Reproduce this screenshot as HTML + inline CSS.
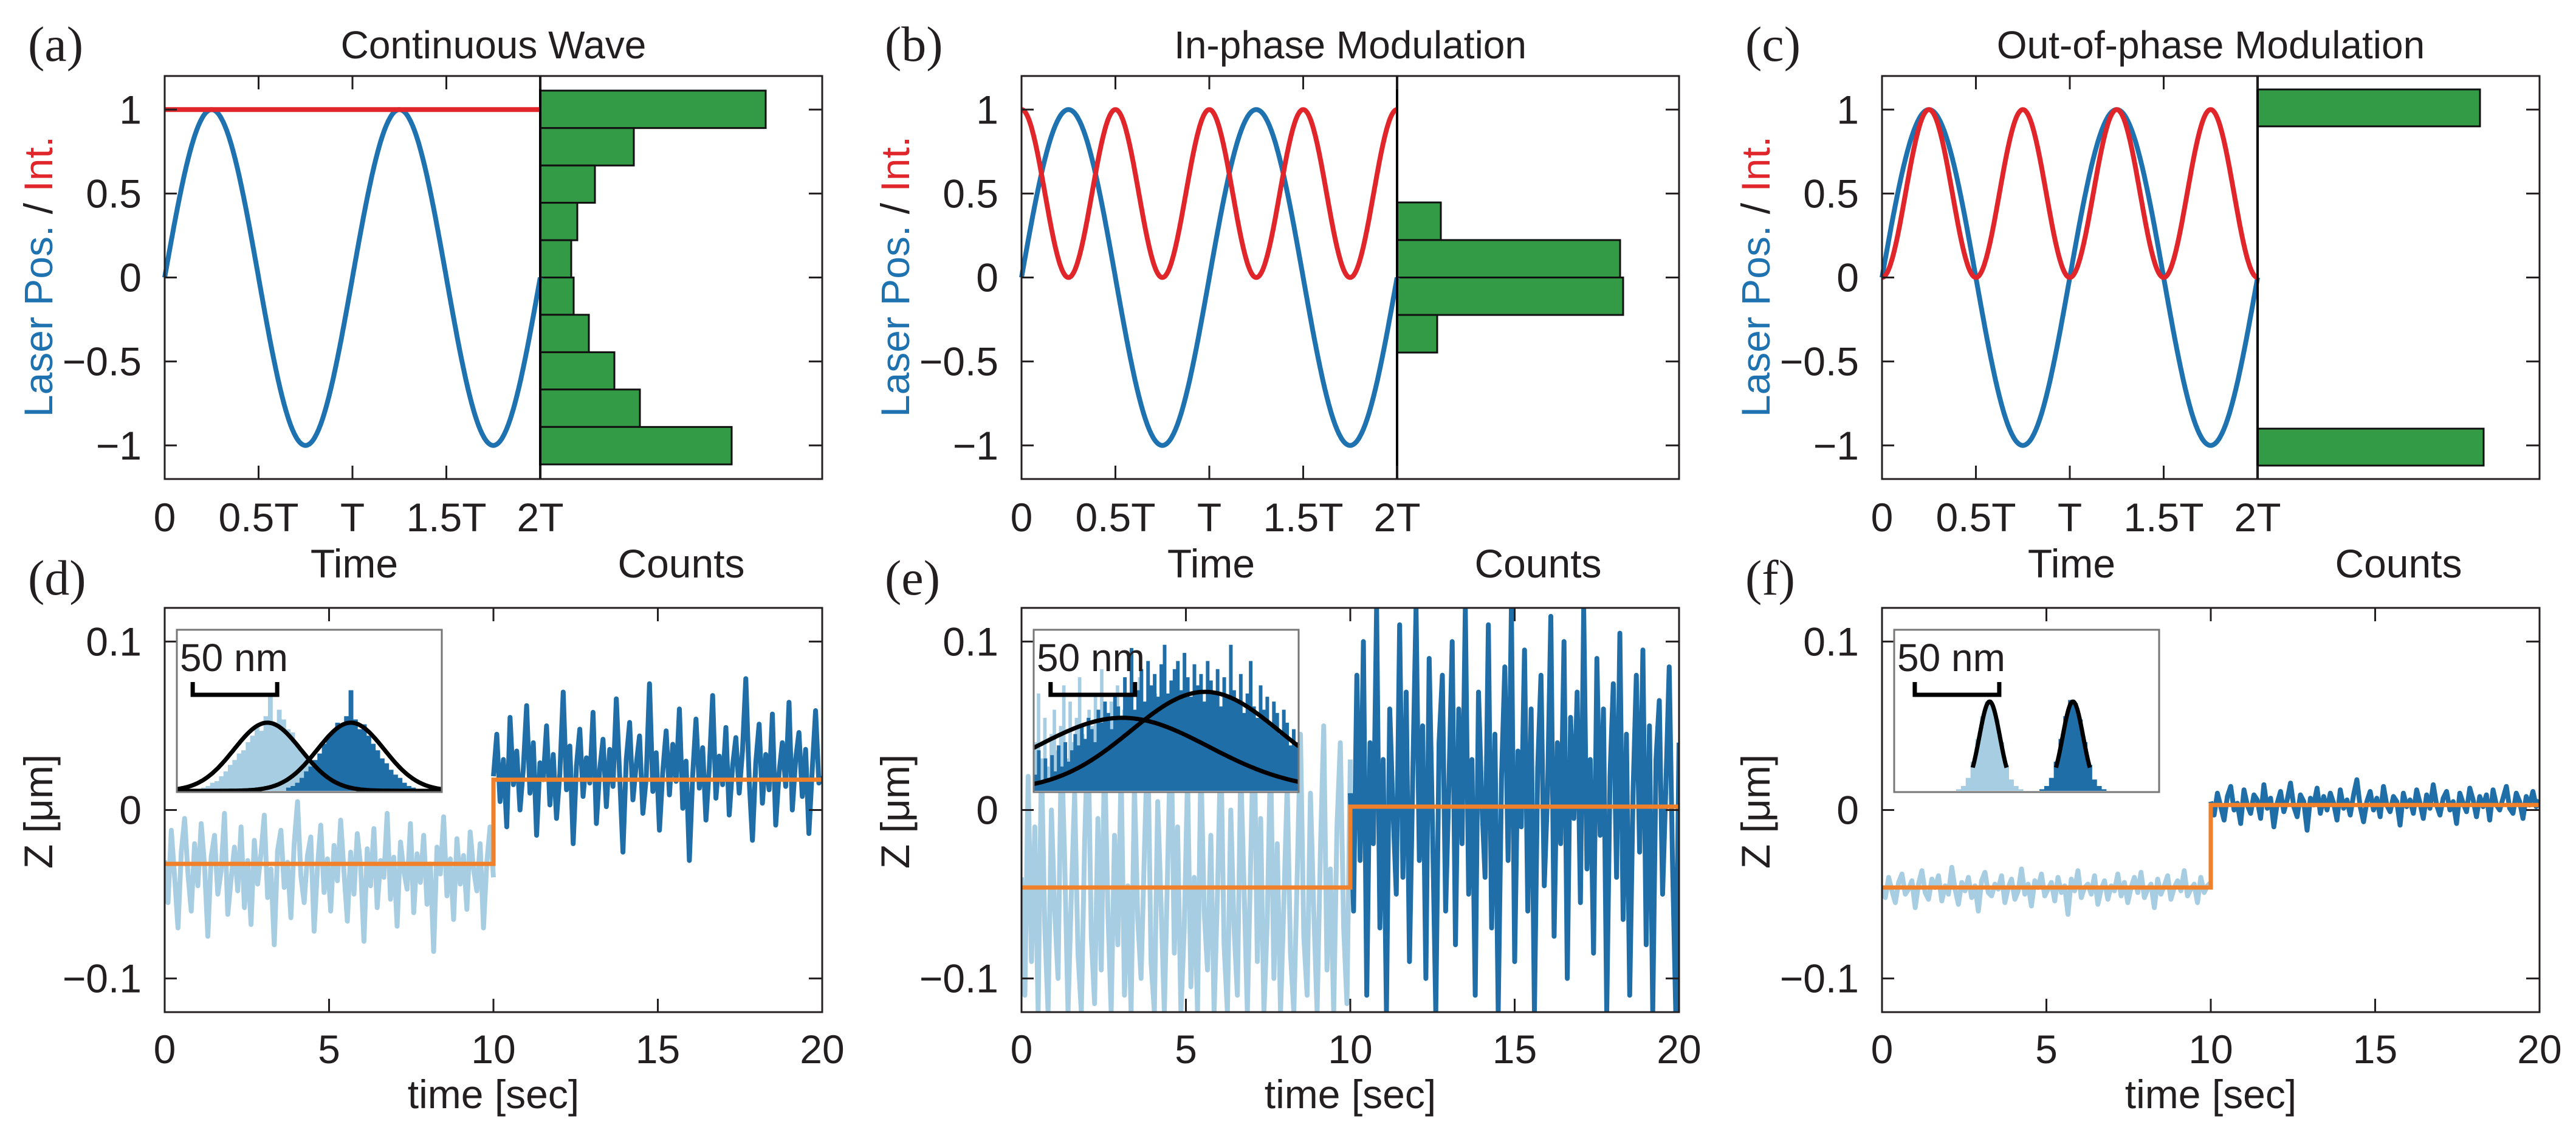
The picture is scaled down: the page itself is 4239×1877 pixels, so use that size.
<!DOCTYPE html>
<html><head><meta charset="utf-8">
<style>
html,body{margin:0;padding:0;background:#fff;}
svg{display:block;}
text{font-family:"Liberation Sans",sans-serif;fill:#231f20;}
</style></head>
<body>
<svg id="chart" width="4239" height="1877" viewBox="0 0 4239 1877" xmlns="http://www.w3.org/2000/svg"></svg>
<script>
// ---------- data ----------
const panelLetters = ['a','b','c'];
const bottomLetters = ['d','e','f'];
const titles = ['Continuous Wave','In-phase Modulation','Out-of-phase Modulation'];
const timeTicks = [0,0.5,1,1.5,2];
const timeTickLabels = ['0','0.5T','T','1.5T','2T'];
const yTicksTop = [-1,-0.5,0,0.5,1];
const yTickLabelsTop = ['\u22121','\u22120.5','0','0.5','1'];
const histEdgesA = [1.113,0.89,0.667,0.445,0.222,0,-0.222,-0.445,-0.667,-0.89,-1.113];
const histCountsA = [371,154,90,61,51,55,80,122,164,315];
const histEdgesB = [0.447,0.223,0,-0.223,-0.447];
const histCountsB = [72,367,372,66];
const histEdgesC = [1.12,0.9,-0.9,-1.12];
const histCountsC = [366,0,372];
const countsMax = 464;

const xTicksBottom = [0,5,10,15,20];
const xTickLabelsBottom = ['0','5','10','15','20'];
const yTicksBottom = [-0.1,0,0.1];
const yTickLabelsBottom = ['\u22120.1','0','0.1'];
const levelsD = [-0.032,0.018];
const levelsE = [-0.046,0.002];
const levelsF = [-0.046,0.003];
// traces in units of 1e-3 µm
const traceDLight = [-30,-55,-12,-40,-70,-25,-5,-38,-60,-20,-45,-8,-33,-75,-28,-15,-50,-36,-2,-62,-41,-22,-48,-10,-58,-30,-68,-18,-44,-26,-3,-52,-35,-80,-24,-12,-46,-31,-64,-20,5,-39,-55,-27,-16,-72,-34,-9,-49,-29,-60,-21,-42,-6,-37,-66,-25,-50,-14,-33,-78,-23,-45,-11,-58,-30,-40,-2,-53,-28,-69,-19,-36,-47,-8,-61,-26,-43,-15,-56,-32,-84,-22,-38,-4,-51,-29,-65,-17,-44,-27,-59,-13,-35,-48,-20,-70,-31,-10,-40];
const traceDDark = [20,45,5,30,-10,55,15,35,0,25,62,10,40,-15,28,18,50,3,33,-5,22,70,12,38,-20,26,48,8,31,16,58,-8,24,42,2,36,14,66,20,-25,30,52,6,27,44,-2,19,75,11,34,-12,23,47,9,39,17,60,1,29,-30,21,54,13,37,-6,25,68,7,32,15,49,-3,26,43,10,35,78,18,-18,28,51,4,33,12,57,-9,22,40,14,64,0,30,46,8,36,-14,24,59,16,20];
const traceELight = [-40,-110,20,-90,-10,-120,30,-70,-120,0,-60,-100,40,-30,-120,-50,10,-85,-120,-20,50,-75,-115,-5,-95,35,-60,-120,-15,-80,25,-110,-45,-120,15,-65,-100,-25,45,-90,-120,5,-55,-120,-35,55,-85,-10,-120,-70,20,-105,-40,-120,30,-60,-95,-15,-120,-50,40,-80,-120,0,-70,-110,25,-45,-120,-30,60,-90,-5,-120,-65,35,-100,-20,-120,-55,15,-85,-120,-40,45,-75,-110,10,-60,-120,-25,50,-95,-35,-120,-10,40,-70,-115,30];
const traceEDark = [10,-60,80,-30,100,-110,40,-20,120,-70,30,-120,60,0,-50,110,-40,70,-90,20,120,-30,50,-100,90,-10,-120,40,80,-60,15,100,-80,60,-20,120,-50,30,-110,70,5,-40,110,-70,45,-120,20,85,-30,120,-90,35,-10,95,-60,60,-120,25,80,-45,10,115,-75,40,-20,100,-100,55,-5,70,-55,120,-35,30,-85,90,-15,60,-120,20,75,-40,105,-65,45,-110,10,80,-25,95,-80,50,-120,30,65,-50,15,85,-30,-120,40];
const traceFLight = [-45,-52,-40,-48,-55,-43,-38,-50,-47,-42,-58,-44,-36,-49,-53,-41,-46,-39,-54,-45,-50,-34,-47,-56,-43,-48,-40,-52,-45,-60,-42,-37,-49,-51,-44,-47,-39,-55,-46,-41,-53,-48,-35,-50,-44,-57,-42,-46,-38,-51,-47,-43,-54,-40,-49,-45,-62,-41,-48,-36,-52,-46,-44,-50,-39,-56,-47,-42,-53,-45,-48,-38,-51,-43,-55,-46,-40,-49,-37,-52,-47,-44,-58,-41,-50,-45,-39,-53,-46,-42,-48,-36,-51,-47,-44,-55,-40,-49,-45,-43];
const traceFDark = [5,-3,10,2,-6,8,14,0,4,-8,12,3,-2,9,6,-5,15,1,7,-10,4,11,-1,6,16,2,-4,9,5,-12,7,3,13,-2,8,0,10,4,-6,12,1,6,-3,9,18,2,-7,5,11,0,7,-4,14,3,-1,8,5,-9,10,2,6,-2,12,4,-5,9,1,15,3,-3,7,11,0,5,-8,10,4,-1,13,6,-4,8,2,9,-6,12,3,0,7,14,1,-2,10,5,-5,8,3,11,2,6];
// inset histograms: [startNm, endNm], heights in inset units (0..100)
const insetRangeDLight = [14.4,93.5];
const insetHistDLight = [2,3,5,6,9,12,16,19,23,25,30,34,40,37,46,59,42,50,44,38,36,29,25,22,17,13,9,6,4,2];
const insetRangeDDark = [64.7,143.9];
const insetHistDDark = [2,3,5,8,12,15,19,23,29,33,36,42,40,46,62,44,38,41,34,29,25,20,17,13,10,8,5,3,2,1];
const insetRangeELight = [0,93.5];
const insetHistELight = [30,60,20,45,15,35,50,25,40,65,20,55,30,45,70,35,25,50,40,60,30,75,45,35,55,25,65,40,50,30,58,45,35,70,42,28,55,38,60,33,48,25,52,36,44,20,40,28,35,18];
const insetRangeEDark = [0,156.8];
const insetHistEDark = [10,25,5,20,8,22,12,28,15,30,18,25,35,28,40,32,45,38,30,50,42,55,48,38,60,52,45,70,58,88,50,62,75,55,80,65,72,58,78,90,60,68,75,80,62,85,70,58,78,65,72,55,80,68,60,75,52,70,58,90,62,55,72,48,60,80,52,45,65,50,58,40,55,48,35,50,42,28,38,30];
const insetRangeFLight = [36.7,76.3];
const insetHistFLight = [1,3,8,18,32,46,55,53,44,30,16,7,3,1];
const insetRangeFDark = [86,125.5];
const insetHistFDark = [1,3,8,18,32,46,56,54,44,30,16,7,3,1];
// gaussian fits: [center nm, sigma nm, amplitude]
const fitsD = [[53.6,19.8,42],[103,19.8,42]];
const fitsE = [[52.5,51,45],[101.4,43.9,61]];
const fitsF = [[56.5,6.1,55],[105.8,6.1,55]];
const scaleBarNm = [[9.4,59.4],[10,60],[12.2,62.2]];

// ---------- drawing ----------
const NS='http://www.w3.org/2000/svg';
const svg=document.getElementById('chart');
function mk(tag,parent){const e=document.createElementNS(NS,tag);parent.appendChild(e);return e;}
function at(e,o){for(const k in o)e.setAttribute(k,o[k]);return e;}
const LEFTS=[271,1681,3097];
const DARK='#231f20', BLUE='#1f72b0', RED='#e0262b', GREEN='#339a45', ORANGE='#f0812a', LBLUE='#a7cde2', DBLUE='#1f6ea8';
const TICKFS=66;

function txt(parent,x,y,s,size,anchor,fill){const t=mk('text',parent);at(t,{x:x,y:y,'font-size':size,'text-anchor':anchor||'middle'});if(fill)t.setAttribute('style','fill:'+fill);t.textContent=s;return t;}

function drawTop(i){
  const L=LEFTS[i],T=125,B=788,TW=618,HW=464;
  const g=mk('g',svg);
  
  
  const x=t=>L+t/2*TW;
  const y=v=>T+(1.2-v)/2.4*(B-T);
  const hx=c=>L+TW+c/countsMax*HW;
  const lab=txt(g,L-225,100,'('+panelLetters[i]+')',82,'start');
  lab.setAttribute('style','font-family:"Liberation Serif",serif');
  
  
  const tt=txt(g,L+541,96,titles[i],64);
  
  
  const edges=[histEdgesA,histEdgesB,histEdgesC][i], counts=[histCountsA,histCountsB,histCountsC][i];
  for(let k=0;k<counts.length;k++){
    if(counts[k]<=0)continue;
    const r=mk('rect',g);
    
    
    at(r,{x:L+TW,y:y(edges[k]),width:hx(counts[k])-(L+TW),height:y(edges[k+1])-y(edges[k]),fill:GREEN,stroke:'#111',
      'stroke-width':3});
  }
  let pb='',pr='';
  for(let s=0;s<=400;s++){const t=s/200;
    const b=Math.sin(2*Math.PI*t);
    let r= i===0?1:(i===1?Math.pow(Math.cos(2*Math.PI*t),2):Math.pow(Math.sin(2*Math.PI*t),2));
    pb+=(s?'L':'M')+x(t).toFixed(1)+' '+y(b).toFixed(1);
    pr+=(s?'L':'M')+x(t).toFixed(1)+' '+y(r).toFixed(1);}
  for(const [nm,d,c] of [['laser-position-line',pb,BLUE],['intensity-line',pr,RED]]){const p=mk('path',g);
    
    
    at(p,{d:d,fill:'none',stroke:c,'stroke-width':8,'stroke-linejoin':'round'});}
  const fr=mk('rect',g);
  
  
  at(fr,{x:L,y:T,width:TW+HW,height:B-T,fill:'none',stroke:DARK,'stroke-width':3});
  const dv=mk('line',g);
  
  
  at(dv,{x1:L+TW,y1:T,x2:L+TW,y2:B,stroke:'#000','stroke-width':4});
  yTicksTop.forEach((v,k)=>{
    const tl=mk('path',g);
    
    
    at(tl,{d:`M${L} ${y(v)}h20M${L+TW+HW} ${y(v)}h-22`,stroke:DARK,'stroke-width':3});
    const lb=txt(g,L-38,y(v)+23,yTickLabelsTop[k],TICKFS,'end');
    
    
  });
  timeTicks.forEach((t,k)=>{
    const tl=mk('path',g);
    
    
    at(tl,{d:`M${x(t)} ${B}v-22M${x(t)} ${T}v22`,stroke:DARK,'stroke-width':3});
    const lb=txt(g,x(t),874,timeTickLabels[k],TICKFS);
    
    
  });
  const xl=txt(g,L+312,950,'Time',66);
  
  
  const cl=txt(g,L+850,950,'Counts',66);
  
  
  const yl=mk('text',g);
  
  
  at(yl,{x:0,y:0,'font-size':66,'text-anchor':'middle',transform:`translate(${L-185},${T+330}) rotate(-90)`});
  const s1=mk('tspan',yl);s1.setAttribute('style','fill:'+BLUE);s1.textContent='Laser Pos. ';
  const s2=mk('tspan',yl);s2.textContent='/ ';
  const s3=mk('tspan',yl);s3.setAttribute('style','fill:'+RED);s3.textContent='Int.';
}

function drawBottom(i){
  const L=LEFTS[i],T=1000,B=1665,W=1082;
  const g=mk('g',svg);
  
  
  const x=s=>L+s/20*W;
  const y=v=>(T+B)/2 - v/0.24*(B-T);
  const lab=txt(g,L-225,978,'('+bottomLetters[i]+')',82,'start');
  lab.setAttribute('style','font-family:"Liberation Serif",serif');
  
  
  const cp=mk('clipPath',g);cp.setAttribute('id','clip'+i);
  at(mk('rect',cp),{x:L,y:T,width:W,height:B-T});
  const pg=mk('g',g);pg.setAttribute('clip-path',`url(#clip${i})`);
  const tr=[[traceDLight,traceDDark],[traceELight,traceEDark],[traceFLight,traceFDark]][i];
  const lv=[levelsD,levelsE,levelsF][i];
  tr.forEach((arr,seg)=>{
    let d='';
    arr.forEach((v,k)=>{d+=(k?'L':'M')+x(seg*10+k/(arr.length-1)*10).toFixed(1)+' '+y(v/1000).toFixed(1);});
    const p=mk('path',pg);
    
    
    at(p,{d:d,fill:'none',stroke:seg?DBLUE:LBLUE,'stroke-width':8,'stroke-linejoin':'round'});
  });
  const st=mk('path',pg);
  
  
  at(st,{d:`M${x(0)} ${y(lv[0])}H${x(10)}V${y(lv[1])}H${x(20)}`,fill:'none',stroke:ORANGE,'stroke-width':7});
  const fr=mk('rect',g);
  
  
  at(fr,{x:L,y:T,width:W,height:B-T,fill:'none',stroke:DARK,'stroke-width':3});
  yTicksBottom.forEach((v,k)=>{
    const tl=mk('path',g);
    
    
    at(tl,{d:`M${L} ${y(v)}h20M${L+W} ${y(v)}h-22`,stroke:DARK,'stroke-width':3});
    const lb=txt(g,L-38,y(v)+23,yTickLabelsBottom[k],TICKFS,'end');
    
    
  });
  xTicksBottom.forEach((s,k)=>{
    const tl=mk('path',g);
    
    
    at(tl,{d:`M${x(s)} ${B}v-22M${x(s)} ${T}v22`,stroke:DARK,'stroke-width':3});
    const lb=txt(g,x(s),1749,xTickLabelsBottom[k],TICKFS);
    
    
  });
  const xl=txt(g,L+541,1823,'time [sec]',66);
  
  
  const yl=mk('text',g);
  
  
  at(yl,{x:0,y:0,'font-size':66,'text-anchor':'middle',transform:`translate(${L-185},${1335}) rotate(-90)`});
  yl.textContent='Z [\u03bcm]';
  // inset
  const IL=L+20, IR=L+456, IT=1036, IB=1303;
  const ix=nm=>IL+nm*2.78;
  const iy=h=>IB-2-h/100*(IB-IT);
  const ig=mk('g',g);
  
  
  const ib=mk('rect',ig);
  at(ib,{x:IL,y:IT,width:IR-IL,height:IB-IT,fill:'#fff',stroke:'none'});
  const hists=[[[insetRangeDLight,insetHistDLight],[insetRangeDDark,insetHistDDark]],
               [[insetRangeELight,insetHistELight],[insetRangeEDark,insetHistEDark]],
               [[insetRangeFLight,insetHistFLight],[insetRangeFDark,insetHistFDark]]][i];
  hists.forEach(([rg,hs],seg)=>{
    const bw=(rg[1]-rg[0])/hs.length;
    hs.forEach((h,k)=>{
      const r=mk('rect',ig);
      
      
      at(r,{x:ix(rg[0]+k*bw),y:iy(h),width:bw*2.78+0.5,height:iy(0)-iy(h),fill:seg?DBLUE:LBLUE});
    });
  });
  const fits=[fitsD,fitsE,fitsF][i];
  fits.forEach(([c,sd,a])=>{
    let d='';
    const n0=i===2?c-10:0, n1=i===2?c+10:(IR-IL)/2.78;
    for(let s=0;s<=200;s++){const nm=n0+(n1-n0)*s/200;
      d+=(s?'L':'M')+ix(nm).toFixed(1)+' '+iy(a*Math.exp(-(nm-c)*(nm-c)/(2*sd*sd))).toFixed(1);}
    const p=mk('path',ig);
    
    
    at(p,{d:d,fill:'none',stroke:'#000','stroke-width':7});
  });
  const ifr=mk('rect',ig);
  at(ifr,{x:IL,y:IT,width:IR-IL,height:IB-IT,fill:'none',stroke:'#777','stroke-width':3});
  const sb=scaleBarNm[i];
  const bar=mk('path',ig);
  
  
  at(bar,{d:`M${ix(sb[0])} 1122V1143H${ix(sb[1])}V1122`,fill:'none',stroke:'#000','stroke-width':7});
  const st2=txt(ig,IL+5,1104,'50 nm',64,'start');
  
  
}
for(let i=0;i<3;i++){drawTop(i);drawBottom(i);}
</script>
</body></html>
